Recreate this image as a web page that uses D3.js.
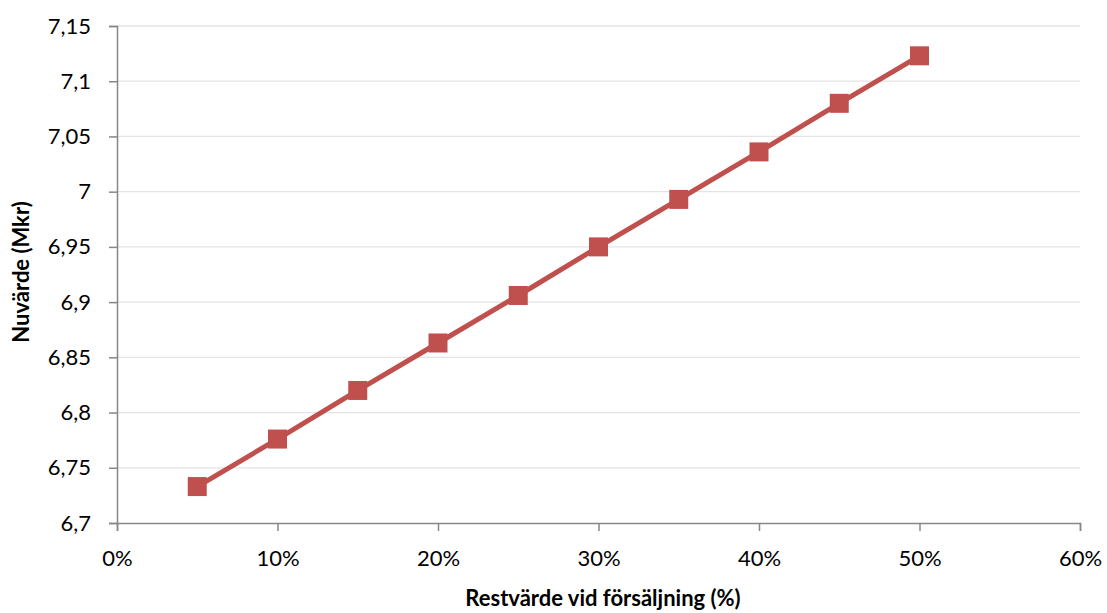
<!DOCTYPE html>
<html>
<head>
<meta charset="utf-8">
<script src="https://cdn.jsdelivr.net/npm/d3@7"></script>
<style>
  body { margin: 0; background: #fff; }
  text { font-family: Lato, "Open Sans", sans-serif; }
</style>
</head>
<body>
<svg id="chart" width="1107" height="613"></svg>
<script>
// restvärde (%) and nuvärde (Mkr)
const restvarde = [5, 10, 15, 20, 25, 30, 35, 40, 45, 50];
const nuvarde = [6.733, 6.776, 6.820, 6.863, 6.906, 6.950, 6.993, 7.036, 7.080, 7.123];
const xTicks = [0, 10, 20, 30, 40, 50, 60];
const yTicks = [6.7, 6.75, 6.8, 6.85, 6.9, 6.95, 7, 7.05, 7.1, 7.15];

const svg = d3.select("#chart");
const m = {top: 26, left: 117, right: 27, bottom: 90};
const w = +svg.attr("width") - m.left - m.right;
const h = +svg.attr("height") - m.top - m.bottom;

const x = d3.scaleLinear().domain([0, 60]).range([0, w]);
const y = d3.scaleLinear().domain([6.7, 7.15]).range([h, 0]);

const g = svg.append("g").attr("transform", `translate(${m.left}, ${m.top})`);

// gridlines
g.selectAll(".grid").data(yTicks.slice(1))
    .enter().append("line")
    .attr("x1", 0).attr("x2", w)
    .attr("y1", d => y(d)).attr("y2", d => y(d))
    .attr("stroke", "#e3e3e3").attr("stroke-width", 1.3);

const fmtY = d => d3.format("~g")(d).replace(".", ",");

const yAxis = g.append("g")
    .call(d3.axisLeft(y).tickValues(yTicks).tickFormat(fmtY).tickSize(8).tickPadding(18));
const xAxis = g.append("g")
    .attr("transform", `translate(0, ${h})`)
    .call(d3.axisBottom(x).tickValues(xTicks).tickFormat(d => d + "%").tickSize(8).tickPadding(19));

[xAxis, yAxis].forEach(a => {
    a.selectAll("path, line").attr("stroke", "#878787").attr("stroke-width", 1.5);
    a.selectAll("text").attr("fill", "#000").style("font-size", "22px");
});

const line = d3.line()
    .x((d, i) => x(restvarde[i]))
    .y(d => y(d));

g.append("path")
    .attr("d", line(nuvarde))
    .attr("fill", "none")
    .attr("stroke", "#c0504d")
    .attr("stroke-width", 5)
    .attr("stroke-linejoin", "round");

const s = 19;
g.selectAll(".pt").data(nuvarde)
    .enter().append("rect")
    .attr("x", (d, i) => x(restvarde[i]) - s / 2)
    .attr("y", d => y(d) - s / 2)
    .attr("width", s).attr("height", s)
    .attr("fill", "#c0504d");

svg.append("text")
    .attr("x", 603).attr("y", 606)
    .attr("text-anchor", "middle")
    .style("font-size", "22px").style("font-weight", "bold")
    .text("Restvärde vid försäljning (%)");

svg.append("text")
    .attr("transform", `translate(29, 272) rotate(-90)`)
    .attr("text-anchor", "middle")
    .style("font-size", "22px").style("font-weight", "bold")
    .text("Nuvärde (Mkr)");
</script>
</body>
</html>
